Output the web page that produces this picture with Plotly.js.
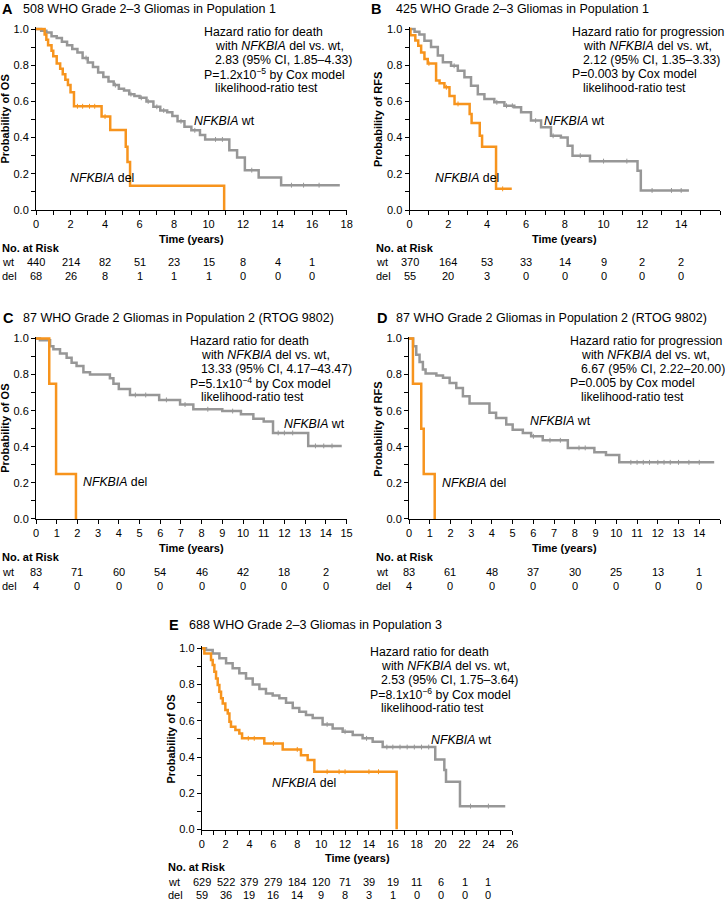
<!DOCTYPE html>
<html><head><meta charset="utf-8">
<script src="https://cdn.plot.ly/plotly-3.0.1.min.js"></script>
<style>html,body{margin:0;padding:0;background:#fff;}#chart{width:725px;height:901px;}</style>
</head><body><div id="chart"></div>
<script>
// ---------- DATA ----------
// Panel A: OS, population 1
const tA_wt = [0,0.3,0.6,0.9,1.2,1.5,1.8,2.1,2.4,2.7,3.0,3.3,3.6,3.9,4.2,4.5,4.8,5.1,5.4,5.7,6.0,6.4,6.8,7.2,7.6,7.9,8.2,8.6,9.0,9.5,9.8,11.2,11.65,12.1,12.9,14.2,17.6];
const sA_wt = [1,0.99,0.98,0.96,0.95,0.93,0.91,0.89,0.87,0.84,0.815,0.79,0.76,0.735,0.71,0.69,0.67,0.66,0.64,0.63,0.62,0.60,0.57,0.55,0.54,0.52,0.49,0.46,0.44,0.415,0.39,0.33,0.29,0.22,0.18,0.137,0.137];
const tA_del = [0,0.5,0.6,0.7,0.9,1.0,1.2,1.4,1.55,1.7,1.85,2.0,2.2,3.8,4.3,5.2,5.3,5.45,10.9];
const sA_del = [1,0.97,0.94,0.91,0.88,0.85,0.81,0.78,0.75,0.72,0.69,0.65,0.573,0.516,0.442,0.35,0.265,0.134,0];
const cA_wt = [2.9,4.6,5.5,6.1,6.5,7.0,7.4,8.4,9.2,10.4,10.8,12.5,14.8,15.5,16.4];
const cA_del = [2.4,2.7,3.1,3.4,4.0];
const riskA_t = [0,2,4,6,8,10,12,14,16];
const riskA_wt = [440,214,82,51,23,15,8,4,1];
const riskA_del = [68,26,8,1,1,1,0,0,0];

// Panel B: RFS, population 1
const tB_wt = [0,0.26,0.51,0.77,1.11,1.46,1.72,2.14,2.49,2.83,3.17,3.52,3.86,4.37,4.89,5.4,5.75,6.26,6.78,7.29,7.8,8.15,8.4,9.3,11.75,11.92,14.4];
const sB_wt = [1,0.985,0.97,0.935,0.90,0.853,0.816,0.797,0.77,0.733,0.687,0.64,0.613,0.595,0.576,0.567,0.54,0.494,0.457,0.41,0.40,0.355,0.30,0.27,0.217,0.108,0.108];
const tB_del = [0,0.05,0.3,0.45,0.6,0.77,0.94,1.37,1.55,1.8,2.06,2.32,3.1,3.2,3.62,3.74,4.46,5.27];
const sB_del = [1,0.965,0.936,0.908,0.87,0.834,0.81,0.715,0.70,0.678,0.63,0.586,0.53,0.48,0.41,0.35,0.117,0.117];
const cB_wt = [2.3,4.5,5.0,5.3,6.5,7.4,8.8,10.0,11.2,12.5,13.5,14.0];
const cB_del = [1.0,1.9,2.5,4.8];
const riskB_t = [0,2,4,6,8,10,12,14];
const riskB_wt = [370,164,53,33,14,9,2,2];
const riskB_del = [55,20,3,0,0,0,0,0];

// Panel C: OS, population 2 (RTOG 9802)
const tC_wt = [0,0.19,0.68,0.84,1.16,1.48,1.72,1.96,2.29,2.61,3.57,3.74,4.0,4.54,5.95,6.96,7.6,9.0,9.9,10.5,11.0,11.45,13.15,14.77];
const sC_wt = [1,0.99,0.957,0.94,0.917,0.893,0.865,0.847,0.813,0.80,0.78,0.75,0.72,0.687,0.66,0.634,0.608,0.598,0.58,0.555,0.54,0.477,0.405,0.405];
const tC_del = [0,0.64,0.97,1.93];
const sC_del = [1,0.75,0.25,0];
const cC_wt = [4.8,5.3,6.3,7.2,8.3,9.5,11.7,12.0,12.4,13.5,13.9,14.3];
const cC_del = [];
const riskC_t = [0,2,4,6,8,10,12,14];
const riskC_wt = [83,71,60,54,46,42,18,2];
const riskC_del = [4,0,0,0,0,0,0,0];

// Panel D: RFS, population 2 (RTOG 9802)
const tD_wt = [0,0.2,0.35,0.51,0.67,0.8,1.32,1.64,1.96,2.28,2.6,2.92,3.88,4.2,4.69,5.0,5.49,5.89,6.45,7.66,8.94,9.5,10.14,14.72];
const sD_wt = [1,0.957,0.91,0.87,0.828,0.806,0.795,0.782,0.754,0.726,0.68,0.64,0.588,0.56,0.523,0.495,0.477,0.458,0.436,0.394,0.37,0.355,0.314,0.314];
const tD_del = [0,0.19,0.59,0.71,1.24];
const sD_del = [1,0.75,0.5,0.25,0];
const cD_wt = [6.0,6.8,7.3,8.2,8.5,10.7,11.0,11.3,11.6,12.0,12.3,12.6,13.0,13.5,14.0];
const cD_del = [];
const riskD_t = [0,2,4,6,8,10,12,14];
const riskD_wt = [83,61,48,37,30,25,13,1];
const riskD_del = [4,0,0,0,0,0,0,0];

// Panel E: OS, population 3
const tE_wt = [0,0.36,0.92,1.48,2.04,2.59,3.15,3.71,4.27,4.83,5.38,5.94,6.5,7.06,7.62,8.17,8.73,9.29,10.12,10.96,11.8,12.64,13.47,14.31,15.15,19.55,20.31,20.45,21.62,25.41];
const sE_wt = [1,0.99,0.972,0.945,0.917,0.89,0.862,0.834,0.80,0.775,0.75,0.74,0.725,0.70,0.67,0.65,0.632,0.615,0.58,0.558,0.54,0.521,0.503,0.484,0.455,0.387,0.328,0.263,0.129,0.129];
const tE_del = [0,0.22,0.78,0.92,1.06,1.2,1.34,1.48,1.62,1.76,1.98,2.18,2.32,2.45,2.82,3.15,3.38,5.24,6.78,8.31,8.87,9.43,16.32];
const sE_del = [1,0.972,0.936,0.908,0.87,0.834,0.797,0.76,0.724,0.696,0.66,0.64,0.595,0.567,0.549,0.53,0.503,0.475,0.442,0.41,0.383,0.319,0];
const cE_wt = [10.5,12.0,13.8,15.5,16.0,16.6,17.2,17.8,18.4,19.0,22.5,24.0];
const cE_del = [3.9,4.4,6.0,8.0,10.5,11.5,12.0,14.0,14.8];
const riskE_t = [0,2,4,6,8,10,12,14,16,18,20,22,24];
const riskE_wt = [629,522,379,279,184,120,71,39,19,11,6,1,1];
const riskE_del = [59,36,19,16,14,9,8,3,1,0,0,0,0];

// ---------- LAYOUT HELPERS ----------
const W = 725, H = 901;
const FONT = 'Liberation Sans, Arial, Helvetica, sans-serif';
const GRAY = '#979797', ORANGE = '#F7941D';
const px = v => v / W;
const py = v => 1 - v / H;

const panels = [
  {letter:'A', title:'508 WHO Grade 2–3 Gliomas in Population 1', lx:0, tx:20.7, ty:9,
   x0:36, x1:346.7, yTop:29, yBot:210, xmax:18, dtick:2, minor:1, ytitle:'Probability of OS',
   hz:['Hazard ratio for death','with <i>NFKBIA</i> del vs. wt,','2.83 (95% CI, 1.85–4.33)','P=1.2x10<sup>−5</sup> by Cox model','likelihood-ratio test'],
   hx:202, hy:32.5, hs:13.75, wtLab:[192.3,120.7], delLab:[67.7,178], tty:239, riskY:[248,262,276], riskX:0,
   wt:[tA_wt,sA_wt,cA_wt], del:[tA_del,sA_del,cA_del], risk:[riskA_t,riskA_wt,riskA_del]},
  {letter:'B', title:'425 WHO Grade 2–3 Gliomas in Population 1', lx:368.7, tx:394.3, ty:9,
   x0:409.5, x1:720, yTop:29, yBot:210, xmax:16, dtick:2, minor:1, ytitle:'Probability of RFS',
   hz:['Hazard ratio for progression','with <i>NFKBIA</i> del vs. wt,','2.12 (95% CI, 1.35–3.33)','P=0.003 by Cox model','likelihood-ratio test'],
   hx:570, hy:32.5, hs:13.75, wtLab:[541.7,120.7], delLab:[433.3,178], tty:239, riskY:[248,262,276], riskX:373.7,
   wt:[tB_wt,sB_wt,cB_wt], del:[tB_del,sB_del,cB_del], risk:[riskB_t,riskB_wt,riskB_del]},
  {letter:'C', title:'87 WHO Grade 2 Gliomas in Population 2 (RTOG 9802)', lx:1, tx:20.7, ty:318.3,
   x0:36, x1:346.5, yTop:338.5, yBot:519, xmax:15, dtick:1, minor:0, ytitle:'Probability of OS',
   hz:['Hazard ratio for death','with <i>NFKBIA</i> del vs. wt,','13.33 (95% CI, 4.17–43.47)','P=5.1x10<sup>−4</sup> by Cox model','likelihood-ratio test'],
   hx:188.3, hy:341.5, hs:13.75, wtLab:[282.3,423.7], delLab:[80.7,482.3], tty:548.3, riskY:[556.7,571.7,585.5], riskX:0,
   wt:[tC_wt,sC_wt,cC_wt], del:[tC_del,sC_del,cC_del], risk:[riskC_t,riskC_wt,riskC_del]},
  {letter:'D', title:'87 WHO Grade 2 Gliomas in Population 2 (RTOG 9802)', lx:375.3, tx:394.3, ty:318.3,
   x0:409, x1:720, yTop:338.5, yBot:519, xmax:15, dtick:1, minor:0, ytitle:'Probability of RFS',
   hz:['Hazard ratio for progression','with <i>NFKBIA</i> del vs. wt,','6.67 (95% CI, 2.22–20.00)','P=0.005 by Cox model','likelihood-ratio test'],
   hx:568, hy:341.5, hs:13.75, wtLab:[528,421.3], delLab:[440.3,483], tty:548.3, riskY:[556.7,571.7,585.5], riskX:373.7,
   wt:[tD_wt,sD_wt,cD_wt], del:[tD_del,sD_del,cD_del], risk:[riskD_t,riskD_wt,riskD_del]},
  {letter:'E', title:'688 WHO Grade 2–3 Gliomas in Population 3', lx:166.7, tx:187.3, ty:625,
   x0:201.7, x1:512.3, yTop:648.3, yBot:829.5, xmax:26, dtick:2, minor:1, ytitle:'Probability of OS',
   hz:['Hazard ratio for death','with <i>NFKBIA</i> del vs. wt,','2.53 (95% CI, 1.75–3.64)','P=8.1x10<sup>−6</sup> by Cox model','likelihood-ratio test'],
   hx:368.3, hy:651.5, hs:14.2, wtLab:[428.7,739.7], delLab:[270,783], tty:858.3, riskY:[867.3,881.7,895], riskX:166,
   wt:[tE_wt,sE_wt,cE_wt], del:[tE_del,sE_del,cE_del], risk:[riskE_t,riskE_wt,riskE_del]}
];

function stepAt(t, s, x) {
  let v = s[0];
  for (let i = 0; i < t.length; i++) { if (t[i] <= x) v = s[i]; }
  return v;
}

const traces = [];
const layout = {
  width: W, height: H, margin: {l:0, r:0, t:0, b:0},
  paper_bgcolor: '#fff', plot_bgcolor: '#fff', showlegend: false,
  font: {family: FONT, color: '#000'},
  annotations: []
};

function ann(text, x, y, opts) {
  layout.annotations.push(Object.assign({
    text: text, x: x, y: y, xref: 'paper', yref: 'paper',
    xanchor: 'left', yanchor: 'middle', showarrow: false,
    font: {family: FONT, size: 12.3, color: '#000'}
  }, opts || {}));
}

panels.forEach((p, i) => {
  const n = i === 0 ? '' : String(i + 1);
  const xa = 'x' + n, ya = 'y' + n;
  const span = p.yBot - p.yTop;
  const axCommon = {
    showline: true, linecolor: '#000', linewidth: 1, ticks: 'outside', ticklen: 4,
    tickwidth: 1, tickcolor: '#000', showgrid: false, zeroline: false, fixedrange: true,
    tickfont: {family: FONT, size: 11, color: '#000'}
  };
  const xax = Object.assign({}, axCommon, {
    domain: [px(p.x0), px(p.x1)], range: [0, p.xmax], anchor: ya,
    tick0: 0, dtick: p.dtick
  });
  if (p.minor) xax.minor = {dtick: p.minor, tick0: 0, ticks: 'outside', ticklen: 4, tickwidth: 1, tickcolor: '#000', showgrid: false};
  layout['xaxis' + n] = xax;
  layout['yaxis' + n] = Object.assign({}, axCommon, {
    domain: [py(p.yBot), py(p.yTop - 0.01 * span)], range: [0, 1.01], anchor: xa,
    tick0: 0, dtick: 0.2, tickformat: '.1f',
    minor: {dtick: 0.1, tick0: 0, ticks: 'outside', ticklen: 4, tickwidth: 1, tickcolor: '#000', showgrid: false}
  });

  [[p.wt, GRAY], [p.del, ORANGE]].forEach(([d, col]) => {
    traces.push({type: 'scatter', mode: 'lines', x: d[0], y: d[1], xaxis: xa, yaxis: ya,
      line: {shape: 'hv', color: col, width: 2.5}, hoverinfo: 'skip'});
    if (d[2].length) {
      traces.push({type: 'scatter', mode: 'markers', x: d[2], y: d[2].map(c => stepAt(d[0], d[1], c)),
        xaxis: xa, yaxis: ya, hoverinfo: 'skip',
        marker: {symbol: 'line-ns', size: 3.5, color: col, line: {width: 1, color: col}}});
    }
  });

  // panel letter and title
  ann('<b>' + p.letter + '</b>', px(p.lx), py(p.ty), {font: {family: FONT, size: 14.5, color: '#000'}});
  ann(p.title, px(p.tx), py(p.ty), {font: {family: FONT, size: 12.5, color: '#000'}});
  // hazard text
  p.hz.forEach((line, k) => {
    const indent = (k === 0 || k === 3) ? 0 : 10.5;
    ann(line, px(p.hx + indent), py(p.hy + k * p.hs));
  });
  // curve labels
  ann('<i>NFKBIA</i> wt', px(p.wtLab[0]), py(p.wtLab[1]));
  ann('<i>NFKBIA</i> del', px(p.delLab[0]), py(p.delLab[1]));
  // axis titles
  ann('<b>Time (years)</b>', px((p.x0 + p.x1) / 2), py(p.tty), {xanchor: 'center', font: {family: FONT, size: 11, color: '#000'}});
  ann('<b>' + p.ytitle + '</b>', px(p.x0 - 31), py((p.yTop + p.yBot) / 2), {xanchor: 'center', textangle: -90, font: {family: FONT, size: 11, color: '#000'}});
  // number at risk
  ann('<b>No. at Risk</b>', px(p.riskX), py(p.riskY[0]), {font: {family: FONT, size: 11, color: '#000'}});
  ann('wt', px(p.riskX), py(p.riskY[1]), {font: {family: FONT, size: 11, color: '#000'}});
  ann('del', px(p.riskX), py(p.riskY[2]), {font: {family: FONT, size: 11, color: '#000'}});
  const [rt, rw, rd] = p.risk;
  rt.forEach((t, k) => {
    layout.annotations.push({text: String(rw[k]), x: t, y: py(p.riskY[1]), xref: xa, yref: 'paper',
      xanchor: 'center', yanchor: 'middle', showarrow: false, font: {family: FONT, size: 11, color: '#000'}});
    layout.annotations.push({text: String(rd[k]), x: t, y: py(p.riskY[2]), xref: xa, yref: 'paper',
      xanchor: 'center', yanchor: 'middle', showarrow: false, font: {family: FONT, size: 11, color: '#000'}});
  });
});

Plotly.newPlot('chart', traces, layout, {staticPlot: true, displayModeBar: false});
</script>
</body></html>
